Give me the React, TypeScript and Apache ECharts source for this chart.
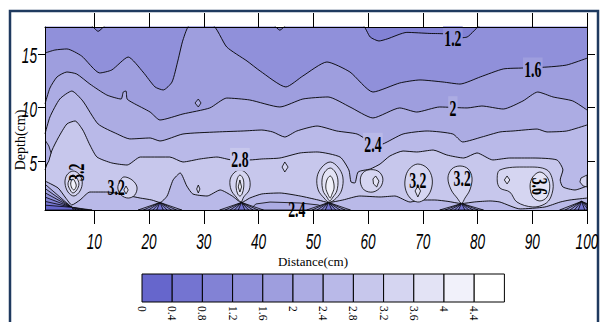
import React, { useEffect, useRef } from "react";
import * as echarts from "echarts";

// ---------- axis ticks & scale ----------
const X_TICKS = [10, 20, 30, 40, 50, 60, 70, 80, 90, 100];
const Y_TICKS = [5, 10, 15];
const LEVEL_TICKS = ["0", "0.4", "0.8", "1.2", "1.6", "2", "2.4", "2.8", "3.2", "3.6", "4", "4.4"];
const BAND_COLORS = [
  "#6666cc", "#7474d1", "#8282d5", "#9090da", "#9e9ede", "#acace3",
  "#b9b9e8", "#c7c7ec", "#d5d5f1", "#e3e3f5", "#f1f1fa", "#ffffff",
];
const X_MIN = 1, X_MAX = 100, Y_MIN = 0.5, Y_MAX = 17.5;
const BACKGROUND_BAND = 2;

// ---------- contour lines (distance, depth); area below takes the given band ----------
const CONTOUR_1_2 = [[1,17.7],[9.2,17.7],[10.7,17.1],[12.3,17.7],[42.6,17.7],[43.9,17.2],[45.2,17.7],[58.9,17.7],[60.4,16.57],[62.0,16.2],[63.5,16.39],[67.1,17.0],[71.3,16.9],[74.1,16.85],[75.5,16.48],[78.1,16.57],[80.8,17.7],[100,17.7]];
const CONTOUR_1_6 = [[1,15.08],[2.8,15.36],[5.0,15.46],[7.7,14.8],[11.0,13.23],[13.2,13.51],[16.2,14.71],[18.9,13.32],[21.1,11.93],[22.6,11.65],[24.2,12.39],[25.3,14.43],[26.2,16.29],[27.5,17.7],[31.5,17.7],[34.2,15.64],[37.9,14.34],[40.3,13.41],[45.0,11.93],[48.1,12.95],[52.5,14.25],[56.7,13.32],[60.9,11.46],[65.8,12.3],[69.5,12.58],[73.7,12.39],[76.8,12.2],[80.5,12.86],[84.7,13.6],[88.3,13.69],[92.7,13.78],[96.3,13.97],[100,14.6]];
const CONTOUR_2_0 = [[1,10.35],[1.9,11.83],[3.2,12.86],[5.0,13.32],[6.8,13.13],[9.2,12.2],[12.3,11.18],[14.9,10.81],[15.3,11.46],[15.8,11.55],[16.0,10.81],[17.1,10.44],[20.2,9.6],[22.0,8.86],[26.2,9.42],[31.1,9.98],[34.2,10.9],[38.4,10.72],[43.9,10.07],[48.1,10.81],[52.7,11.0],[56.7,10.07],[60.9,9.05],[65.8,9.98],[68.9,9.6],[73.1,10.07],[78.1,9.98],[80.8,10.16],[84.7,9.88],[88.3,10.63],[91.0,11.46],[93.8,11.0],[97.4,10.63],[100,9.79]];
const CONTOUR_2_4 = [[1,7.56],[1.9,9.14],[3.7,10.81],[5.9,11.55],[7.9,10.63],[10.7,8.49],[14.2,7.56],[16.5,7.1],[20.2,7.19],[22.0,6.91],[26.2,7.56],[32.4,7.75],[37.2,7.84],[40.6,7.93],[42.6,7.75],[44.8,7.28],[47.0,7.84],[50.7,8.3],[54.3,7.84],[58.0,7.56],[59.8,7.0],[60.9,6.54],[62.7,6.63],[66.4,7.56],[70.8,7.84],[75.5,7.56],[77.3,6.82],[80.8,7.28],[84.1,7.75],[86.5,7.84],[90.9,8.02],[92.7,7.75],[96.3,7.84],[100,8.4]];
const CONTOUR_2_8 = [[1,4.22],[2.3,6.07],[3.4,7.19],[5.0,8.49],[6.5,8.77],[7.9,7.93],[9.2,6.54],[10.5,5.42],[13.2,4.87],[16.0,4.68],[18.4,5.42],[20.2,5.42],[23.8,5.42],[26.2,4.96],[29.3,5.24],[32.4,5.42],[35.2,5.15],[38.4,5.15],[40.6,5.24],[43.9,5.33],[47.6,5.8],[50.7,5.89],[54.9,5.42],[56.5,4.22],[56.9,3.1],[57.6,3.01],[58.2,4.03],[60.4,4.31],[62.2,4.77],[64.0,5.52],[66.4,5.98],[68.9,5.89],[71.9,6.07],[74.4,5.61],[77.5,5.33],[79.9,5.8],[82.8,5.15],[85.9,5.33],[90.1,5.33],[94.5,5.15],[95.6,4.22],[95.1,3.29],[95.6,2.64],[97.8,2.36],[100,2.73]];
const CONTOUR_2_8_LOWER = [[1,3.19],[3.4,2.54],[4.8,1.61],[5.9,0.97],[7.4,1.43],[9.2,2.17],[12.3,2.17],[18.4,1.61],[20.5,1.43],[22.0,1.2],[23.3,1.8],[24.4,3.29],[25.7,3.94],[26.9,2.73],[28.0,1.99],[30.6,1.8],[33.0,2.36],[35.2,1.8],[36.9,1.2],[38.4,1.61],[40.6,1.99],[43.9,2.08],[47.6,1.8],[50.9,1.43],[52.8,1.2],[55.4,1.43],[58.5,1.8],[62.2,1.71],[64.9,1.8],[67.7,1.24],[69.5,1.43],[72.2,1.43],[74.6,1.3],[77.1,1.1],[79.5,1.25],[82.3,1.34],[84.1,1.24],[87.8,0.6],[92.3,0.78],[95.1,1.24],[96.9,1.43],[100,1.61]];

const CONTOUR_SERIES = [
  [CONTOUR_1_2, 3],
  [CONTOUR_1_6, 4],
  [CONTOUR_2_0, 5],
  [CONTOUR_2_4, 6],
  [CONTOUR_2_8, 7],
  [CONTOUR_2_8_LOWER, 6],
];

// ---------- low-value pockets [band, outline] ----------
const LOW_POCKETS = [
  [5, [[1,7.0],[1.7,6.45],[2.1,5.8],[1.7,5.05],[1,4.49]]],
  [5, [[38.4,0.5],[39.5,1.06],[42.1,1.24],[47.6,1.15],[50.9,0.97],[52.4,0.69],[53.1,0.5]]],
  [5, [[1,2.9],[5.9,0.75],[9.6,0.5],[1,0.5]]],
  [4, [[1,2.5],[5.9,0.75],[8.8,0.5],[1,0.5]]],
  [3, [[1,2.1],[5.9,0.75],[8.0,0.5],[1,0.5]]],
  [2, [[1,1.7],[5.9,0.75],[7.3,0.5],[1,0.5]]],
  [1, [[1,1.3],[5.9,0.75],[6.7,0.5],[1,0.5]]],
  [0, [[1,0.95],[5.9,0.75],[6.2,0.5],[1,0.5]]],
];
// converging bottom fans: apex (distance, depth) and rays to the bottom edge [half-width, band]
const FAN_APEXES = [[22.0,1.2],[36.9,1.2],[52.8,1.2],[77.1,1.1],[99.0,1.3]];
const FAN_RAYS = [[4.0,5],[3.0,4],[2.1,3],[1.3,2],[0.6,1]];

// ---------- high-value islands [band, outline] ----------
const HIGH_POCKETS = [
  [5, [[28.4,10.44],[29.0,10.81],[29.5,10.44],[29.0,10.07]]],
  [8, [[44.8,4.96],[45.4,4.49],[44.8,4.03],[44.3,4.49]]],
  [8, [[29.0,2.82],[29.3,2.45],[29.0,2.08],[28.7,2.45]]],
  [8, [[6.1,4.12],[7.2,3.84],[7.8,3.1],[7.4,2.27],[6.3,1.8],[5.2,2.17],[4.65,3.01],[5.0,3.75]]],
  [9, [[6.1,3.75],[6.8,3.47],[7.2,2.92],[6.8,2.36],[6.1,2.08],[5.6,2.36],[5.2,2.92],[5.6,3.47]]],
  [10, [[6.1,3.38],[6.5,3.1],[6.7,2.73],[6.3,2.36],[5.9,2.54],[5.7,3.01]]],
  [8, [[15.4,3.57],[16.9,3.29],[17.8,2.64],[17.4,1.89],[16.2,1.61],[14.9,1.89],[14.3,2.54],[14.7,3.19]]],
  [9, [[15.8,2.73],[16.2,2.36],[15.8,1.99],[15.4,2.36]]],
  [8, [[36.6,4.22],[37.7,3.94],[38.4,3.29],[38.3,2.36],[37.3,1.71],[36.8,1.25],[35.9,1.71],[35.0,2.36],[34.8,3.29],[35.5,3.94]]],
  [9, [[36.6,3.75],[37.2,3.38],[37.3,2.64],[37.0,1.99],[36.6,1.8],[36.2,1.99],[35.9,2.64],[36.1,3.38]]],
  [10, [[36.6,3.29],[36.9,2.64],[36.6,2.17],[36.3,2.64]]],
  [8, [[53.1,4.96],[54.5,4.49],[55.4,3.57],[55.2,2.36],[54.2,1.6],[52.9,1.22],[52.0,1.6],[50.9,2.36],[50.7,3.57],[51.6,4.49]]],
  [9, [[53.1,4.4],[54.0,4.03],[54.5,3.29],[54.3,2.27],[53.6,1.7],[53.0,1.35],[52.5,1.7],[51.8,2.27],[51.6,3.29],[52.1,4.03]]],
  [10, [[53.1,3.66],[53.6,3.29],[53.8,2.54],[53.4,1.95],[53.1,1.62],[52.7,1.95],[52.3,2.54],[52.5,3.29]]],
  [8, [[60.0,4.22],[61.8,4.12],[62.7,3.47],[62.3,2.64],[60.9,2.17],[59.3,2.36],[58.6,3.1],[58.9,3.84]]],
  [9, [[61.4,3.66],[62.0,3.19],[61.6,2.64],[61.0,2.92],[60.9,3.38]]],
  [8, [[69.1,4.77],[70.8,4.4],[71.7,3.47],[71.5,2.36],[70.4,1.52],[69.1,1.24],[67.7,1.61],[66.8,2.54],[66.9,3.66],[67.7,4.4]]],
  [9, [[69.1,2.73],[69.6,2.27],[69.1,1.71],[68.6,2.27]]],
  [8, [[76.8,4.59],[78.3,4.31],[79.0,3.47],[78.6,2.36],[77.7,1.6],[77.1,1.12],[76.3,1.6],[75.2,2.36],[74.6,3.47],[75.3,4.31]]],
  [8, [[84.1,4.22],[89.0,4.49],[92.7,4.22],[93.8,3.01],[93.4,1.71],[92.3,1.06],[90.1,0.78],[87.2,1.24],[85.9,2.17],[84.1,2.54],[83.6,3.29]]],
  [9, [[85.4,3.66],[85.9,3.29],[85.4,2.92],[84.9,3.29]]],
  [9, [[91.4,4.03],[92.7,3.57],[93.2,2.73],[92.7,1.71],[91.4,1.34],[90.1,1.71],[89.6,2.73],[90.1,3.57]]],
  [8, [[100,3.75],[98.9,3.47],[98.7,3.1],[99.3,2.73],[100,2.64]]],
];

// ---------- contour labels [text, distance, depth, rotation deg, backdrop band] ----------
const CONTOUR_LABELS = [
  ["1.2", 75.5, 16.5, 0, 3],
  ["1.6", 90.1, 13.6, 0, 4],
  ["2", 75.5, 10.0, 0, 5],
  ["2.4", 60.9, 6.6, 0, 6],
  ["2.8", 36.6, 5.2, 0, 7],
  ["2.4", 47.0, 0.6, 0, -1],
  ["3.2", 14.0, 2.6, 0, -1],
  ["3.2", 6.7, 4.0, 90, -1],
  ["3.2", 69.1, 3.3, 0, -1],
  ["3.2", 77.2, 3.5, 0, -1],
  ["3.6", 91.4, 2.7, -90, -1],
];

const clampX = (v: number) => Math.max(X_MIN, Math.min(X_MAX, v));

function buildPolygons() {
  const polys: { band: number; pts: number[][]; smooth: number }[] = [];
  LOW_POCKETS.forEach((p: any) => polys.push({ band: p[0], pts: p[1], smooth: 0 }));
  FAN_APEXES.forEach(([ax, ay]) => {
    FAN_RAYS.forEach(([hw, band]) => {
      const pts = [[clampX(ax - hw), Y_MIN], [ax, ay], [clampX(ax + hw), Y_MIN]];
      if (ax + hw > X_MAX) pts.splice(2, 0, [X_MAX, ay - (ay - Y_MIN) * ((X_MAX - ax) / hw)]);
      polys.push({ band, pts, smooth: 0 });
    });
  });
  HIGH_POCKETS.forEach((p: any) => polys.push({ band: p[0], pts: p[1], smooth: p[1].length > 5 ? 0.35 : 0 }));
  return polys;
}

export default function App() {
  const ref = useRef<HTMLDivElement>(null);
  useEffect(() => {
    if (!ref.current) return;
    const chart = echarts.init(ref.current, null, { renderer: "svg" });
    const polys = buildPolygons();
    const tickFont = "'Liberation Sans Narrow', 'Liberation Sans', sans-serif";
    const labelFont = "'Liberation Serif', 'Times New Roman', serif";

    const lineSeries = CONTOUR_SERIES.map(([data, band]: any) => ({
      type: "line",
      data,
      symbol: "none",
      smooth: 0.2,
      silent: true,
      z: 2,
      lineStyle: { color: "#000", width: 0.9 },
      areaStyle: { color: BAND_COLORS[band], opacity: 1, origin: "start" },
      clip: true,
    }));

    const CB_X = 142, CB_Y = 274, CB_W = 30.2, CB_H = 28;
    const colorbar: any[] = [];
    BAND_COLORS.forEach((c, i) => {
      colorbar.push({
        type: "rect",
        shape: { x: CB_X + i * CB_W, y: CB_Y, width: CB_W, height: CB_H },
        style: { fill: c, stroke: "#000", lineWidth: 1 },
        silent: true,
      });
    });
    LEVEL_TICKS.forEach((t, i) => {
      colorbar.push({
        type: "text",
        x: CB_X + i * CB_W,
        y: CB_Y + 32,
        rotation: -Math.PI / 2,
        style: { text: t, fontFamily: labelFont, fontSize: 11.5, fill: "#000", align: "left", verticalAlign: "middle" },
        silent: true,
      });
    });

    const option: any = {
      animation: false,
      grid: { left: 45, top: 27, width: 542, height: 183, show: true, backgroundColor: BAND_COLORS[BACKGROUND_BAND], borderWidth: 0 },
      xAxis: [
        {
          type: "value", min: X_MIN, max: X_MAX, position: "bottom", z: 10,
          axisLine: { show: true, onZero: false, lineStyle: { color: "#000", width: 1 } },
          axisTick: { show: true, length: 14, customValues: X_TICKS, lineStyle: { color: "#000" } },
          axisLabel: { show: false }, splitLine: { show: false },
        },
        {
          type: "value", min: X_MIN, max: X_MAX, position: "top", z: 10,
          axisLine: { show: true, onZero: false, lineStyle: { color: "#000", width: 1 } },
          axisTick: { show: true, length: 14, customValues: X_TICKS, lineStyle: { color: "#000" } },
          axisLabel: { show: false }, splitLine: { show: false },
        },
      ],
      yAxis: [
        {
          type: "value", min: Y_MIN, max: Y_MAX, position: "left", z: 10,
          axisLine: { show: true, onZero: false, lineStyle: { color: "#000", width: 1 } },
          axisTick: { show: true, length: 7, customValues: Y_TICKS, lineStyle: { color: "#000" } },
          axisLabel: { show: false }, splitLine: { show: false },
        },
        {
          type: "value", min: Y_MIN, max: Y_MAX, position: "right", z: 10,
          axisLine: { show: true, onZero: false, lineStyle: { color: "#000", width: 1 } },
          axisTick: { show: true, length: 8, customValues: Y_TICKS, lineStyle: { color: "#000" } },
          axisLabel: { show: false }, splitLine: { show: false },
        },
      ],
      series: [
        ...lineSeries,
        {
          type: "custom",
          silent: true,
          clip: true,
          z: 4,
          data: polys.map((p, i) => [p.pts[0][0], p.pts[0][1], i]),
          renderItem: (params: any, api: any) => {
            const poly = polys[params.dataIndex];
            return {
              type: "polygon",
              shape: { points: poly.pts.map((pt) => api.coord(pt)), smooth: poly.smooth },
              style: { fill: BAND_COLORS[poly.band], stroke: "#000", lineWidth: 0.8 },
            };
          },
        },
        {
          type: "custom",
          silent: true,
          clip: false,
          z: 6,
          data: CONTOUR_LABELS.map((l: any) => [l[1], l[2]]),
          renderItem: (params: any, api: any) => {
            const l: any = CONTOUR_LABELS[params.dataIndex];
            const p = api.coord([l[1], l[2]]);
            const style: any = {
              text: l[0], fontFamily: labelFont, fontWeight: "bold", fontSize: 23,
              fill: "#000", align: "center", verticalAlign: "middle",
            };
            if (l[4] >= 0) { style.backgroundColor = BAND_COLORS[l[4]]; style.padding = [0, 2]; }
            return { type: "text", x: p[0], y: p[1], rotation: (l[3] * Math.PI) / 180, scaleX: 0.6, style };
          },
        },
        {
          type: "custom",
          silent: true,
          clip: false,
          z: 6,
          data: X_TICKS.map((v) => [v, Y_MIN]),
          renderItem: (params: any, api: any) => {
            const v = api.value(0);
            const p = api.coord([v, Y_MIN]);
            return {
              type: "text", x: p[0], y: p[1] + 31, scaleX: 0.62,
              style: { text: String(v), fontFamily: tickFont, fontStyle: "italic", fontSize: 22, fill: "#000", align: "center", verticalAlign: "middle" },
            };
          },
        },
        {
          type: "custom",
          silent: true,
          clip: false,
          z: 6,
          data: Y_TICKS.map((v) => [X_MIN, v]),
          renderItem: (params: any, api: any) => {
            const v = api.value(1);
            const p = api.coord([X_MIN, v]);
            return {
              type: "text", x: p[0] - 8, y: p[1] + 1.5, scaleX: 0.62,
              style: { text: String(v), fontFamily: tickFont, fontStyle: "italic", fontSize: 22, fill: "#000", align: "right", verticalAlign: "middle" },
            };
          },
        },
      ],
      graphic: [
        {
          type: "rect",
          shape: { x: 10, y: 11, width: 588, height: 340 },
          style: { fill: "none", stroke: "#1f3a5f", lineWidth: 2.5 },
          silent: true,
        },
        {
          type: "text", x: 313, y: 261,
          style: { text: "Distance(cm)", fontFamily: labelFont, fontSize: 13, fill: "#000", align: "center", verticalAlign: "middle" },
          silent: true,
        },
        {
          type: "text", x: 20, y: 140, rotation: Math.PI / 2,
          style: { text: "Depth(cm)", fontFamily: labelFont, fontSize: 14, fill: "#000", align: "center", verticalAlign: "middle" },
          silent: true,
        },
        ...colorbar,
      ],
    };
    chart.setOption(option);
    return () => chart.dispose();
  }, []);
  return <div ref={ref} style={{ position: "absolute", left: 0, top: 0, width: 600, height: 322 }} />;
}
